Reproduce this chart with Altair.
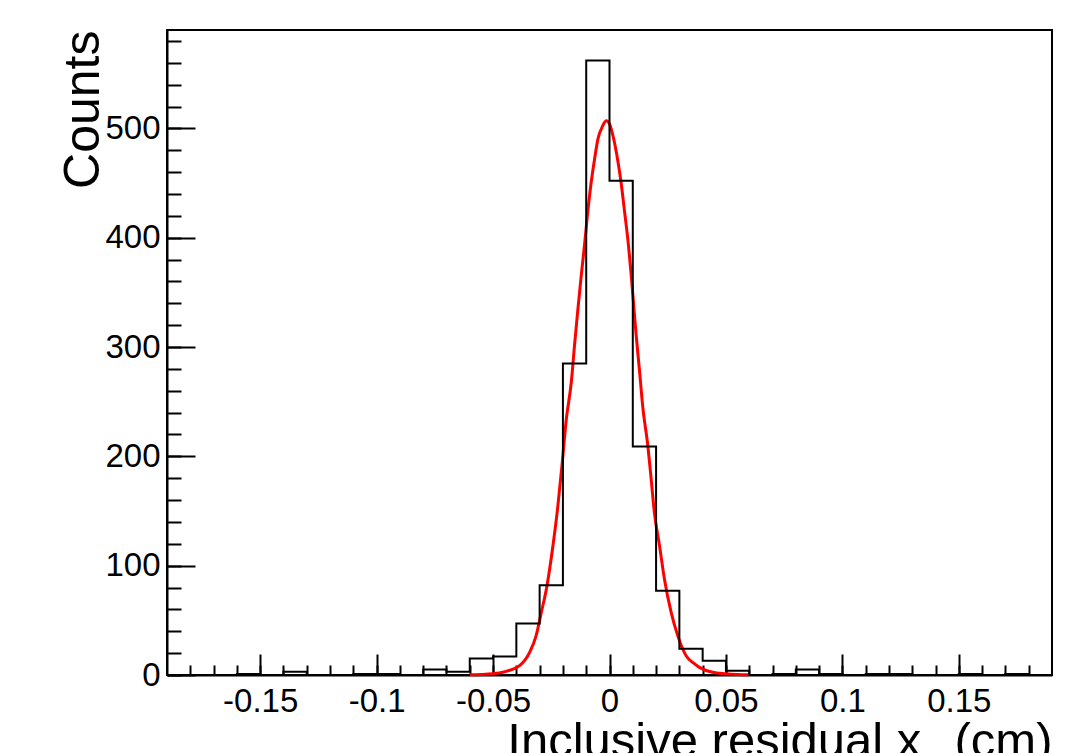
import altair as alt
import pandas as pd

# ---- histogram: 38 bins of width 0.01 from -0.19 to 0.19 ----
bin_low = -0.19
bin_width = 0.01
counts = [0, 0, 0, 1, 0, 3, 0, 0, 1, 1,
          0, 5, 3, 15, 17, 47, 82, 285, 562, 452,
          209, 77, 24, 13, 4, 0, 1, 5, 1, 0,
          1, 1, 0, 0, 1, 0, 1, 0]

# ---- red fit curve ----
curve_x = [-0.060, -0.055, -0.050, -0.0458, -0.042, -0.0386, -0.0343, -0.0315,
           -0.0293, -0.0269, -0.0243, -0.0222, -0.0203, -0.0186, -0.0164, -0.0150,
           -0.0136, -0.0121, -0.0107, -0.0097, -0.0079, -0.0064, -0.0050, -0.0030,
           -0.0014, 0.0000, 0.0014, 0.0036, 0.0050, 0.0064, 0.0079, 0.0093,
           0.0107, 0.0114, 0.0129, 0.0143, 0.0165, 0.0179, 0.0193, 0.0215,
           0.0236, 0.0265, 0.0293, 0.0329, 0.0360, 0.0386, 0.0443, 0.050,
           0.055, 0.060]
curve_y = [0.2, 0.5, 1.2, 2.5, 5, 8.5, 20.7, 36,
           57, 81, 118, 154, 194, 233, 268, 302,
           334, 366, 394, 416, 450, 472, 490, 502,
           507, 504, 494, 470, 450, 425, 398, 366,
           330, 312, 278, 245, 209, 179, 148, 118,
           87.5, 57, 36, 17.6, 11, 7, 2.5, 1.2,
           0.5, 0.2]

# ---- axis ticks / labels ----
x_major = [-0.15, -0.1, -0.05, 0, 0.05, 0.1, 0.15]
x_minor = [-0.18, -0.17, -0.16, -0.15, -0.14, -0.13, -0.12, -0.11, -0.10, -0.09,
           -0.08, -0.07, -0.06, -0.05, -0.04, -0.03, -0.02, -0.01, 0.0, 0.01,
           0.02, 0.03, 0.04, 0.05, 0.06, 0.07, 0.08, 0.09, 0.10, 0.11,
           0.12, 0.13, 0.14, 0.15, 0.16, 0.17, 0.18]
y_major = [0, 100, 200, 300, 400, 500]
y_minor = [0, 20, 40, 60, 80, 100, 120, 140, 160, 180, 200, 220, 240, 260, 280,
           300, 320, 340, 360, 380, 400, 420, 440, 460, 480, 500, 520, 540, 560, 580]

x_title = "Inclusive residual x\u2009\u2009 (cm)"
x_sub = "c"
y_title = "Counts"

FONT = "Liberation Sans"
W, H = 885, 645

edges = [round(bin_low + bin_width * i, 4) for i in range(len(counts) + 1)]
hist_df = pd.DataFrame({"x": edges, "y": counts + [counts[-1]]})
curve_df = pd.DataFrame({"x": curve_x, "y": curve_y})

xs = alt.Scale(domain=[-0.19, 0.19], nice=False, zero=False)
ys = alt.Scale(domain=[0, 590], nice=False, zero=True)

# labels + domain lines
x_lab_axis = alt.Axis(orient="bottom", values=x_major, ticks=False, grid=False,
                      domain=True, domainColor="black", domainWidth=2,
                      labelFont=FONT, labelFontSize=33, labelColor="black",
                      labelPadding=10, labelExpr="toString(datum.value)",
                      labelFlush=False, labelOverlap=False,
                      title=x_title, titleFont=FONT, titleFontSize=49,
                      titleFontWeight="normal", titleColor="black",
                      titleAlign="right", titleX=W, titleY=81,
                      titleBaseline="alphabetic")
y_lab_axis = alt.Axis(orient="left", values=y_major, ticks=False, grid=False,
                      domain=True, domainColor="black", domainWidth=2,
                      labelFont=FONT, labelFontSize=33, labelColor="black",
                      labelPadding=7, labelFlush=False, labelOverlap=False,
                      title=y_title, titleFont=FONT, titleFontSize=50,
                      titleFontWeight="normal", titleColor="black",
                      titleAngle=270, titleAlign="right", titleX=-69, titleY=0,
                      titleBaseline="alphabetic")

# inward major ticks
x_maj_axis = alt.Axis(orient="top", offset=-H, values=x_major, tickSize=21,
                      tickColor="black", tickWidth=2, labels=False,
                      domain=False, grid=False, title=None)
y_maj_axis = alt.Axis(orient="right", offset=-W, values=y_major, tickSize=28,
                      tickColor="black", tickWidth=2, labels=False,
                      domain=False, grid=False, title=None)
# inward minor ticks
x_min_axis = alt.Axis(orient="top", offset=-H, values=x_minor, tickSize=10,
                      tickColor="black", tickWidth=2, labels=False,
                      domain=False, grid=False, title=None)
y_min_axis = alt.Axis(orient="right", offset=-W, values=y_minor, tickSize=14,
                      tickColor="black", tickWidth=2, labels=False,
                      domain=False, grid=False, title=None)

fit = alt.Chart(curve_df).mark_line(color="#ff0000", strokeWidth=3,
                                    interpolate="monotone").encode(
    x=alt.X("x:Q", scale=xs, axis=x_maj_axis),
    y=alt.Y("y:Q", scale=ys, axis=y_maj_axis),
)

hist = alt.Chart(hist_df).mark_line(color="black", strokeWidth=2,
                                    interpolate="step-after").encode(
    x=alt.X("x:Q", scale=xs, axis=x_lab_axis),
    y=alt.Y("y:Q", scale=ys, axis=y_lab_axis),
)

minor = alt.Chart(hist_df).mark_line(opacity=0).encode(
    x=alt.X("x:Q", scale=xs, axis=x_min_axis),
    y=alt.Y("y:Q", scale=ys, axis=y_min_axis),
)

sub = alt.Chart(pd.DataFrame({"t": [x_sub]})).mark_text(
    font=FONT, fontSize=34, color="black", align="left", baseline="alphabetic",
    clip=False,
).encode(text="t:N", x=alt.value(766), y=alt.value(744))

chart = alt.layer(fit, hist, minor, sub).resolve_axis(
    x="independent", y="independent"
).properties(
    width=W, height=H,
    autosize=alt.AutoSizeParams(type="none"),
    padding={"left": 159, "top": 22, "right": 28, "bottom": 78},
    background="white",
).configure_view(stroke="black", strokeWidth=2)

chart.save("out.html", embed_options={"renderer": "svg", "actions": False})
